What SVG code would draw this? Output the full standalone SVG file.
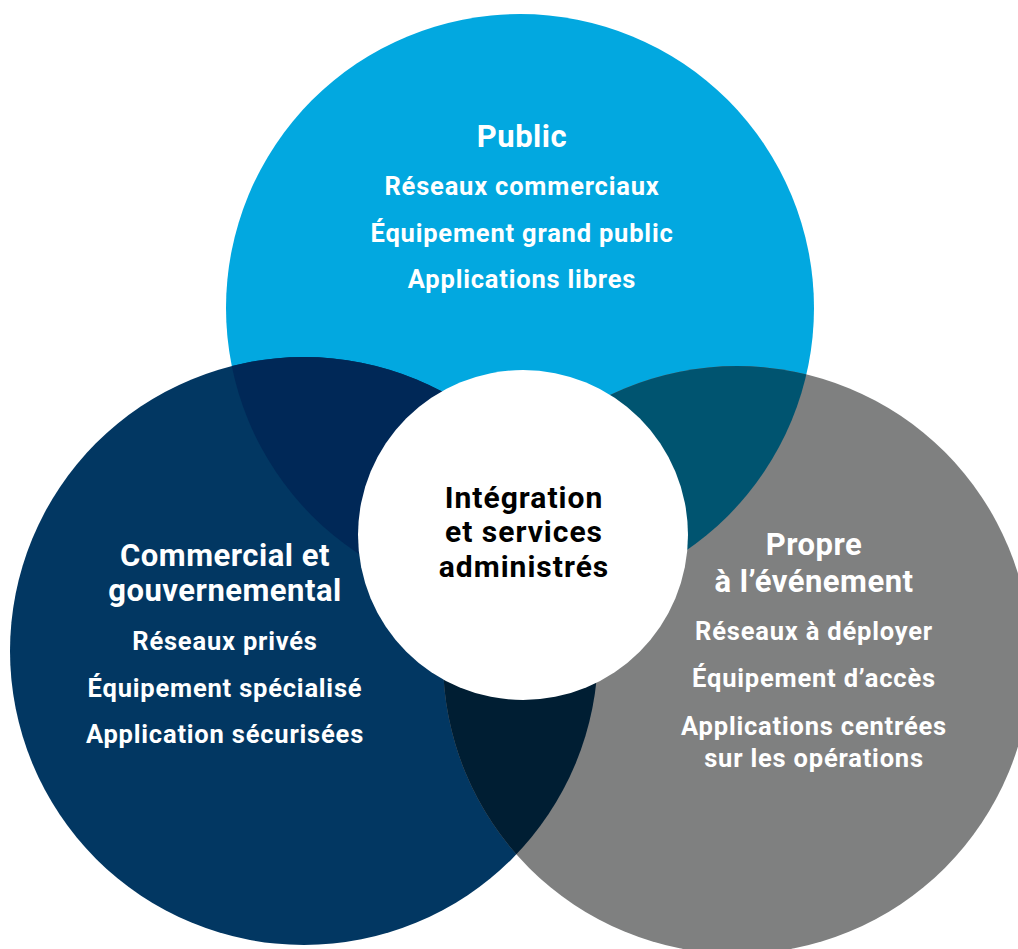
<svg xmlns="http://www.w3.org/2000/svg" width="1018" height="949" viewBox="0 0 1018 949">
<style>
  text { font-family: Roboto, "Liberation Sans", sans-serif; font-weight: 700; text-anchor: middle; }
  .title { font-size: 31px; fill: #ffffff; letter-spacing: 0.5px; }
  .item { font-size: 25.5px; fill: #ffffff; letter-spacing: 0.8px; }
  .center { font-size: 30px; fill: #000000; letter-spacing: 1px; }
</style>
<defs>
  <clipPath id="clipTop"><circle cx="520" cy="308" r="294"/></clipPath>
  <clipPath id="clipLeft"><circle cx="304" cy="651" r="294"/></clipPath>
</defs>
<rect width="1018" height="949" fill="#ffffff"/>
<g id="circle-public">
  <circle cx="520" cy="308" r="294" fill="#02A8E0"/>
</g>
<g id="circle-commercial">
  <circle cx="304" cy="651" r="294" fill="#023762"/>
</g>
<g id="circle-evenement">
  <circle cx="737" cy="660" r="294" fill="#7F8080"/>
</g>
<g id="overlaps">
  <circle cx="304" cy="651" r="294" fill="#002857" clip-path="url(#clipTop)"/>
  <circle cx="737" cy="660" r="294" fill="#005470" clip-path="url(#clipTop)"/>
  <circle cx="737" cy="660" r="294" fill="#001E33" clip-path="url(#clipLeft)"/>
</g>
<g id="node-center">
  <circle cx="523" cy="535" r="165" fill="#ffffff"/>
  <text class="center" x="524" y="508">Intégration</text>
  <text class="center" x="524" y="542">et services</text>
  <text class="center" x="524" y="577">administrés</text>
</g>
<g id="label-public">
  <text class="title" x="522" y="147">Public</text>
  <text class="item" x="522" y="195">Réseaux commerciaux</text>
  <text class="item" x="522" y="242">Équipement grand public</text>
  <text class="item" x="522" y="288">Applications libres</text>
</g>
<g id="label-commercial">
  <text class="title" x="225" y="566">Commercial et</text>
  <text class="title" x="225" y="601">gouvernemental</text>
  <text class="item" x="225" y="650">Réseaux privés</text>
  <text class="item" x="225" y="697">Équipement spécialisé</text>
  <text class="item" x="225" y="743">Application sécurisées</text>
</g>
<g id="label-evenement">
  <text class="title" x="814" y="555">Propre</text>
  <text class="title" x="814" y="592">à l’événement</text>
  <text class="item" x="814" y="640">Réseaux à déployer</text>
  <text class="item" x="814" y="687">Équipement d’accès</text>
  <text class="item" x="814" y="735">Applications centrées</text>
  <text class="item" x="814" y="767">sur les opérations</text>
</g>
<g id="connectors"></g>
</svg>
